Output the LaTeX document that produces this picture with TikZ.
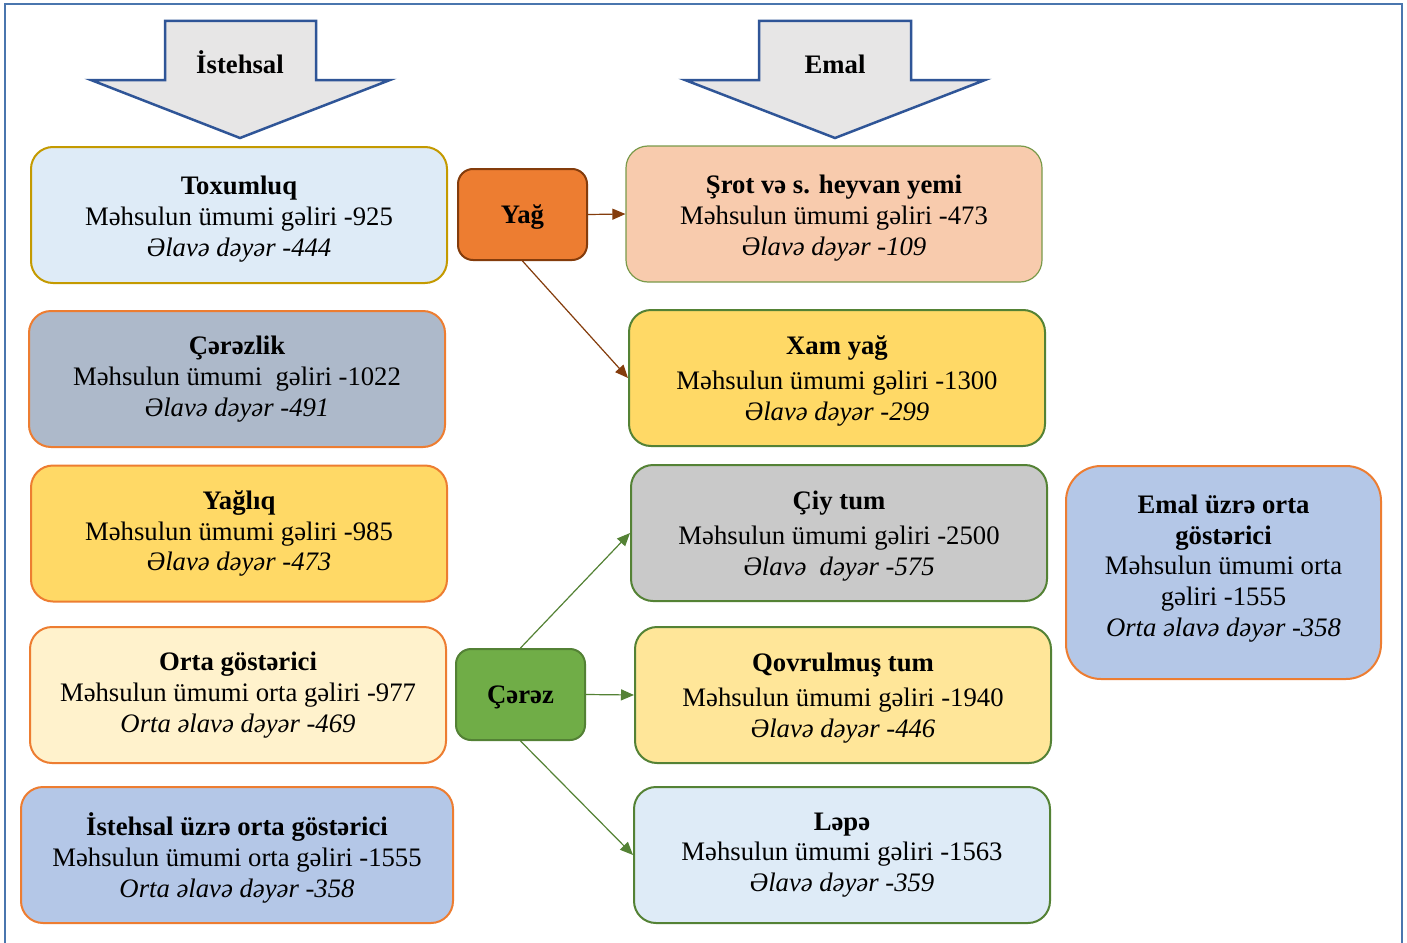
\documentclass[tikz,border=0pt]{standalone}
\usepackage{fontspec}
\setmainfont{Liberation Serif}
\usetikzlibrary{arrows.meta}
\definecolor{frameblue}{HTML}{4A76AE}
\definecolor{arrowfill}{HTML}{E7E6E6}
\definecolor{arrowline}{HTML}{2F5597}
\definecolor{lblue}{HTML}{DEEBF7}
\definecolor{gold}{HTML}{C49A00}
\definecolor{orng}{HTML}{ED7D31}
\definecolor{slate}{HTML}{ADB9CA}
\definecolor{yellow1}{HTML}{FFD966}
\definecolor{cream}{HTML}{FFF2CC}
\definecolor{blue2}{HTML}{B4C7E7}
\definecolor{peach}{HTML}{F8CBAD}
\definecolor{olive}{HTML}{7A9A4A}
\definecolor{grn}{HTML}{548235}
\definecolor{grey1}{HTML}{C9C9C9}
\definecolor{yellow2}{HTML}{FFE699}
\definecolor{brwn}{HTML}{843C0C}
\definecolor{ygfill}{HTML}{ED7D31}
\definecolor{czfill}{HTML}{70AD47}
\definecolor{czline}{HTML}{538135}
\newcommand{\fsz}{\fontsize{26.7}{30.7}\selectfont}
\tikzset{
  infobox/.style={rounded corners=22pt, draw, line width=2pt, minimum width=416pt, minimum height=136pt, inner sep=0pt},
  boxtext/.style={align=center, font=\fsz, inner sep=0pt},
  smallbox/.style={rounded corners=15pt, draw, line width=2pt, minimum width=129pt, minimum height=91pt, font=\fsz\bfseries, inner sep=0pt, text height=18pt, text depth=0pt},
  bigarrow/.style={fill=arrowfill, draw=arrowline, line width=2.5pt, line join=miter},
  conn/.style={line width=1.2pt, -{Triangle[length=13pt,width=11pt]}},
}
\begin{document}
\begin{tikzpicture}[x=1pt,y=-1pt]
\useasboundingbox (0,0) rectangle (1407,942);
\fill[white] (0,0) rectangle (1407,942);
\draw[frameblue, line width=2.2pt] (5,945) -- (5,4) -- (1402,4) -- (1402,945);
% big arrows
\draw[bigarrow] (165,21) -- (316,21) -- (316,80) -- (390,80) -- (240,138) -- (91,80) -- (165,80) -- cycle;
\node[font=\fsz\bfseries] (ist) at (240,62) {İstehsal};
\draw[bigarrow] (759,21) -- (911,21) -- (911,80) -- (985,80) -- (835,138) -- (685,80) -- (759,80) -- cycle;
\node[font=\fsz\bfseries] (emal) at (835,64) {Emal};
% left column
\node[infobox, fill=lblue, draw=gold] (tox) at (239,215) {};
\node[boxtext, yshift=-4pt] (tox-t) at (tox.center) {\textbf{Toxumluq}\\Məhsulun ümumi gəliri -925\\\textit{Əlavə dəyər -444}};
\node[infobox, fill=slate, draw=orng] (cerezlik) at (237,379) {};
\node[boxtext] (cerezlik-t) at (cerezlik.center) {\textbf{Çərəzlik}\\Məhsulun ümumi\ \ gəliri -1022\\\textit{Əlavə dəyər -491}};
\node[infobox, fill=yellow1, draw=orng] (yagliq) at (239,533.5) {};
\node[boxtext] (yagliq-t) at (yagliq.center) {\textbf{Yağlıq}\\Məhsulun ümumi gəliri -985\\\textit{Əlavə dəyər -473}};
\node[infobox, fill=cream, draw=orng] (orta) at (238,695) {};
\node[boxtext] (orta-t) at (orta.center) {\textbf{Orta göstərici}\\Məhsulun ümumi orta gəliri -977\\\textit{Orta əlavə dəyər -469}};
\node[infobox, fill=blue2, draw=orng, minimum width=432pt] (istorta) at (237,855) {};
\node[boxtext, yshift=-3pt] (istorta-t) at (istorta.center) {\textbf{İstehsal üzrə orta göstərici}\\Məhsulun ümumi orta gəliri -1555\\\textit{Orta əlavə dəyər -358}};
% middle
\node[smallbox, fill=ygfill, draw=brwn] (yag) at (522.5,214.5) {Yağ};
\node[smallbox, fill=czfill, draw=czline] (cerez) at (520.5,694.5) {Çərəz};
% right column
\node[infobox, fill=peach, draw=olive, line width=1.2pt] (srot) at (834,214) {};
\node[boxtext, yshift=-4pt] (srot-t) at (srot.center) {\textbf{Şrot və s. heyvan yemi}\\Məhsulun ümumi gəliri -473\\\textit{Əlavə dəyər -109}};
\node[infobox, fill=yellow1, draw=grn] (xam) at (837,378) {};
\node[boxtext, yshift=-3pt] (xam-t) at (xam.center) {\textbf{Xam yağ}\\[4pt]Məhsulun ümumi gəliri -1300\\\textit{Əlavə dəyər -299}};
\node[infobox, fill=grey1, draw=grn] (ciy) at (839,533) {};
\node[boxtext, yshift=-3pt] (ciy-t) at (ciy.center) {\textbf{Çiy tum}\\[4pt]Məhsulun ümumi gəliri -2500\\\textit{Əlavə\ \ dəyər -575}};
\node[infobox, fill=yellow2, draw=grn] (qov) at (843,695) {};
\node[boxtext, yshift=-3pt] (qov-t) at (qov.center) {\textbf{Qovrulmuş tum}\\[4pt]Məhsulun ümumi gəliri -1940\\\textit{Əlavə dəyər -446}};
\node[infobox, fill=lblue, draw=grn] (lepe) at (842,855) {};
\node[boxtext] (lepe-t) at (lepe.center) {\textbf{Ləpə}\\Məhsulun ümumi gəliri -1563\\\textit{Əlavə dəyər -359}};
\node[infobox, fill=blue2, draw=orng, rounded corners=35pt, minimum width=315pt, minimum height=213pt] (emalorta) at (1223.5,572.5) {};
\node[boxtext, yshift=4pt] (emalorta-t) at (emalorta.center) {\textbf{Emal üzrə orta}\\\textbf{göstərici}\\Məhsulun ümumi orta\\gəliri -1555\\\textit{Orta əlavə dəyər -358}};
% connectors
\draw[conn, brwn] (yag.east) -- (srot.west);
\draw[conn, brwn] (yag.south) -- (xam.west);
\draw[conn, grn] (cerez.north) -- (ciy.west);
\draw[conn, grn] (cerez.east) -- (qov.west);
\draw[conn, grn] (cerez.south) -- (lepe.west);
\end{tikzpicture}
\end{document}
